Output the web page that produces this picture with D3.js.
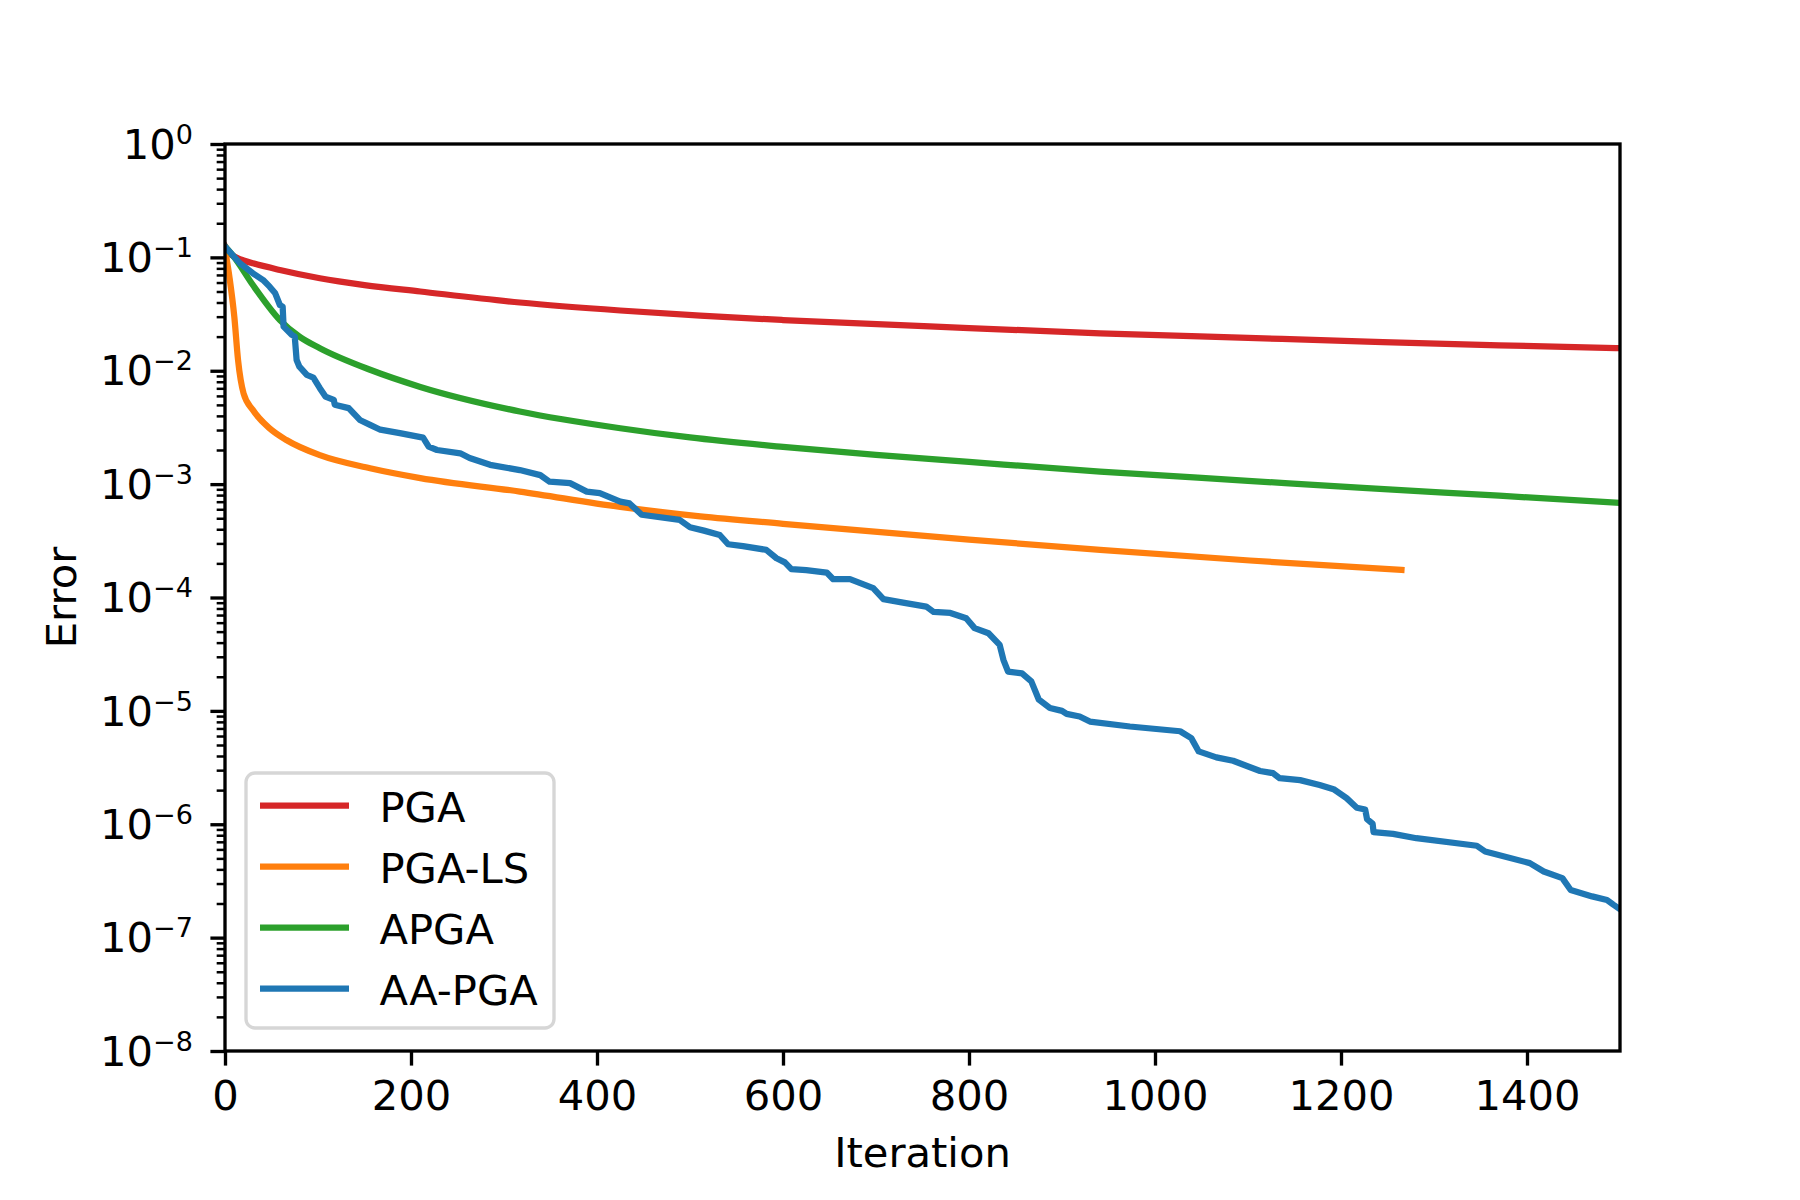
<!DOCTYPE html>
<html>
<head>
<meta charset="utf-8">
<script src="https://cdn.jsdelivr.net/npm/d3@7"></script>
<style>
  body { margin: 0; background: #fff; }
  svg { display: block; }
  text { font-family: "DejaVu Sans", sans-serif; }
</style>
</head>
<body>
<div id="chart"></div>
<script>
// iteration values and error values
const iterPGA = [0, 3, 5, 9, 14, 20, 30, 59, 102, 150, 210, 317, 425, 511, 600, 800, 941, 1100, 1228, 1370, 1500];
const errPGA = [0.126, 0.114, 0.108, 0.103, 0.098, 0.094, 0.0887, 0.0774, 0.0654, 0.057, 0.050, 0.040, 0.034, 0.0306,
  0.028, 0.0238, 0.0214, 0.0195, 0.0181, 0.01675, 0.0158];

const iterPGALS = [0, 5, 10, 14, 20, 30, 48, 66, 102, 156, 210, 317, 425, 511, 600, 800, 941, 1102, 1265];
const errPGALS = [0.118, 0.065, 0.03, 0.0125, 0.0063, 0.0045, 0.0031, 0.00245, 0.0018, 0.00138, 0.00113,
  0.00086, 0.00063, 0.00052, 0.000447, 0.000324, 0.000263, 0.000212, 0.000175];

const iterAPGA = [0, 10, 30, 59, 80, 102, 156, 210, 317, 425, 500, 600, 700, 800, 941, 1100, 1228, 1370, 1500];
const errAPGA = [0.125, 0.1, 0.057, 0.028, 0.020, 0.0158, 0.0102, 0.0072, 0.00437, 0.00311, 0.00258,
  0.00213, 0.00181, 0.00157, 0.00129, 0.00107, 0.00092, 0.00079, 0.000684];

const iterAAPGA = [0, 16, 30, 41, 48, 54, 59, 62, 63, 72, 75, 77, 80, 88, 95, 102, 108, 117, 118, 133,
  145, 156, 167, 188, 213, 219, 228, 253, 263, 285, 317, 339, 349, 371, 389, 403, 425, 435, 448, 489,
  500, 515, 532, 541, 557, 582, 593, 602, 609, 625, 647, 654, 672, 697, 708, 729, 754, 762, 780, 797,
  806, 821, 833, 837, 842, 857, 867, 875, 887, 900, 905, 919, 930, 973, 1027, 1039, 1047, 1066, 1084, 1113,
  1127, 1134, 1156, 1177, 1192, 1206, 1217, 1226, 1228, 1234, 1235, 1256, 1281, 1346, 1355, 1403, 1418, 1438,
  1447, 1470, 1486, 1493, 1500];
const errAAPGA = [0.1245, 0.0887, 0.0724, 0.0631, 0.0552, 0.0482, 0.0380, 0.0368, 0.0245, 0.0207, 0.0200,
  0.01245, 0.01086, 0.00918, 0.00871, 0.00702, 0.00592, 0.00553, 0.00501, 0.00468,
  0.00368, 0.00333, 0.00302, 0.00282, 0.00257, 0.00214, 0.00200, 0.00187, 0.00170, 0.00148,
  0.00133, 0.00120, 0.00105, 0.00102, 8.59e-4, 8.32e-4, 7.01e-4, 6.76e-4, 5.37e-4, 4.83e-4,
  4.17e-4, 3.89e-4, 3.56e-4, 2.95e-4, 2.84e-4, 2.63e-4, 2.22e-4, 2.04e-4, 1.78e-4, 1.74e-4,
  1.66e-4, 1.45e-4, 1.45e-4, 1.21e-4, 9.66e-5, 9.02e-5, 8.32e-5, 7.46e-5, 7.31e-5, 6.56e-5,
  5.37e-5, 4.84e-5, 3.82e-5, 2.82e-5, 2.22e-5, 2.14e-5, 1.82e-5, 1.26e-5, 1.06e-5, 1.00e-5,
  9.40e-6, 8.91e-6, 8.05e-6, 7.28e-6, 6.61e-6, 5.75e-6, 4.39e-6, 3.89e-6, 3.63e-6, 2.95e-6,
  2.82e-6, 2.55e-6, 2.45e-6, 2.22e-6, 2.04e-6, 1.70e-6, 1.40e-6, 1.35e-6, 1.11e-6, 1.01e-6,
  8.51e-7, 8.22e-7, 7.53e-7, 6.46e-7, 5.75e-7, 4.54e-7, 3.83e-7, 3.35e-7,
  2.63e-7, 2.31e-7, 2.15e-7, 1.95e-7, 1.78e-7];

const seriesNames = ["PGA", "PGA-LS", "APGA", "AA-PGA"];
const seriesColors = ["#d62728", "#ff7f0e", "#2ca02c", "#1f77b4"];

const xTicks = [0, 200, 400, 600, 800, 1000, 1200, 1400];
const yExponents = [0, -1, -2, -3, -4, -5, -6, -7, -8];

// build series table
const series = [
  { name: seriesNames[0], color: seriesColors[0], smooth: true, pts: d3.zip(iterPGA, errPGA) },
  { name: seriesNames[1], color: seriesColors[1], smooth: true, pts: d3.zip(iterPGALS, errPGALS) },
  { name: seriesNames[2], color: seriesColors[2], smooth: true, pts: d3.zip(iterAPGA, errAPGA) },
  { name: seriesNames[3], color: seriesColors[3], smooth: false, pts: d3.zip(iterAAPGA, errAAPGA) },
];

const W = 1800, H = 1200;
const mLeft = 225, mTop = 144, mRight = 1620, mBottom = 1051;
const width = mRight - mLeft, height = mBottom - mTop;
const fontSize = 41.67;

const svg = d3.select("#chart").append("svg")
  .attr("width", W).attr("height", H)
  .style("background", "#fff");

const g = svg.append("g").attr("transform", `translate(${mLeft},${mTop})`);

const x = d3.scaleLinear().domain([0, 1500]).range([0, width]);
const y = d3.scaleLog().domain([1e-8, 1]).range([height, 0]);

// clip lines to the axes box
g.append("clipPath").attr("id", "plotclip")
  .append("rect").attr("width", width).attr("height", height);

const lineSmooth = d3.line().x(d => x(d[0])).y(d => y(d[1])).curve(d3.curveMonotoneX);
const lineStep = d3.line().x(d => x(d[0])).y(d => y(d[1]));

g.append("g").attr("clip-path", "url(#plotclip)")
  .selectAll("path")
  .data(series)
  .join("path")
  .attr("fill", "none")
  .attr("stroke", d => d.color)
  .attr("stroke-width", 6.25)
  .attr("stroke-linejoin", "round")
  .attr("stroke-linecap", "square")
  .attr("d", d => (d.smooth ? lineSmooth : lineStep)(d.pts));

// x axis
const xAxis = g.append("g")
  .attr("transform", `translate(0,${height})`)
  .call(d3.axisBottom(x).tickValues(xTicks).tickSize(14.6).tickPadding(14.8).tickFormat(d3.format("d")));
xAxis.select(".domain").remove();
xAxis.selectAll("line").attr("stroke", "#000").attr("stroke-width", 3.33);
xAxis.selectAll("text")
  .attr("fill", "#000")
  .style("font-size", fontSize + "px")
  .style("font-family", "DejaVu Sans");

// y axis minor ticks
const minorVals = [];
yExponents.slice(1).forEach(e => {
  for (let m = 2; m <= 9; m++) minorVals.push(m * Math.pow(10, e));
});
const yMinor = g.append("g")
  .call(d3.axisLeft(y).tickValues(minorVals).tickSize(8.33).tickFormat(""));
yMinor.select(".domain").remove();
yMinor.selectAll("line").attr("stroke", "#000").attr("stroke-width", 2.5);

// y axis major ticks, labels as 10^k
const yAxis = g.append("g")
  .call(d3.axisLeft(y).tickValues(yExponents.map(e => Math.pow(10, e)))
    .tickSize(14.6).tickPadding(17.5).tickFormat(""));
yAxis.select(".domain").remove();
yAxis.selectAll("line").attr("stroke", "#000").attr("stroke-width", 3.33);
yAxis.selectAll("text")
  .attr("fill", "#000")
  .attr("dy", null)
  .attr("y", 14.2)
  .style("font-size", fontSize + "px")
  .style("font-family", "DejaVu Sans")
  .each(function (d) {
    const e = Math.round(Math.log10(d));
    const t = d3.select(this);
    t.text(null);
    t.append("tspan").text("10");
    t.append("tspan")
      .attr("dy", -15)
      .style("font-size", "27px")
      .text(e < 0 ? "\u2212" + Math.abs(e) : String(e));
  });

// frame
g.append("rect")
  .attr("width", width).attr("height", height)
  .attr("fill", "none").attr("stroke", "#000").attr("stroke-width", 3.33);

// axis labels
svg.append("text")
  .attr("x", mLeft + width / 2).attr("y", 1167)
  .attr("text-anchor", "middle")
  .style("font-size", fontSize + "px")
  .text("Iteration");

svg.append("text")
  .attr("transform", `translate(76,${mTop + height / 2}) rotate(-90)`)
  .attr("text-anchor", "middle")
  .style("font-size", fontSize + "px")
  .text("Error");

// legend
const legend = svg.append("g").attr("transform", "translate(246,773)");
legend.append("rect")
  .attr("width", 308).attr("height", 255)
  .attr("rx", 9).attr("ry", 9)
  .attr("fill", "#fff").attr("fill-opacity", 0.8)
  .attr("stroke", "#d6d6d6").attr("stroke-width", 3.33);

const rows = legend.selectAll("g.row")
  .data(series)
  .join("g")
  .attr("class", "row")
  .attr("transform", (d, i) => `translate(0,${32.7 + i * 61})`);
rows.append("line")
  .attr("x1", 14).attr("x2", 103)
  .attr("stroke", d => d.color).attr("stroke-width", 6.25);
rows.append("text")
  .attr("x", 133.5).attr("y", 16)
  .style("font-size", fontSize + "px")
  .text(d => d.name);
</script>
</body>
</html>
